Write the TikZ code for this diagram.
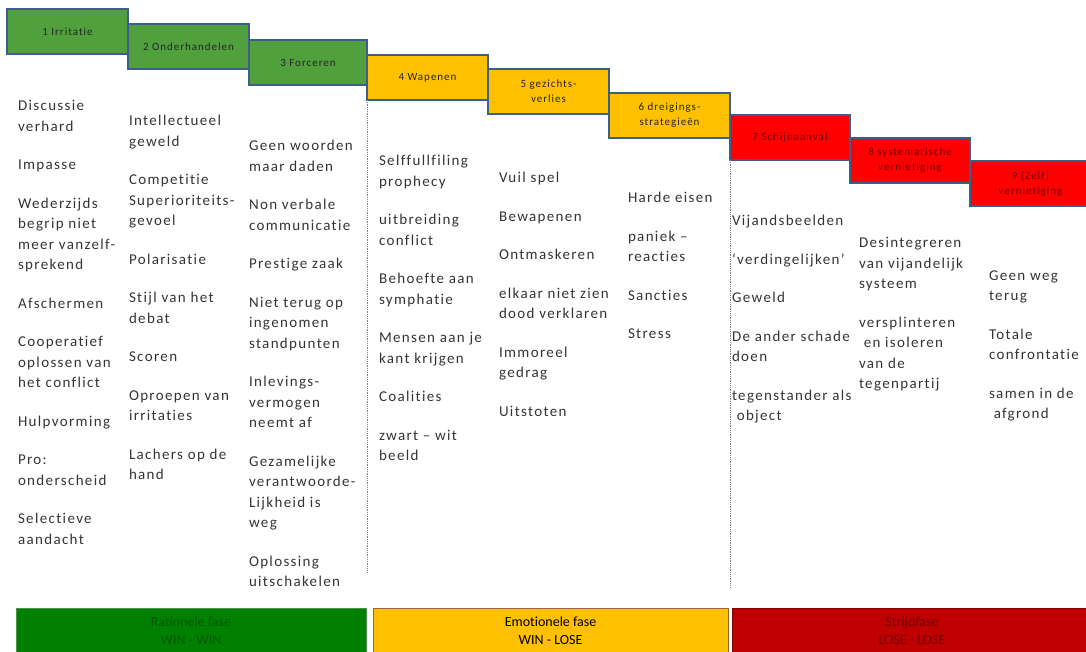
\documentclass[tikz,border=0pt]{standalone}
\usepackage{fontspec}
\setmainfont[Ligatures=NoCommon]{Carlito}
\newfontfamily\bodyfont[LetterSpace=9, Ligatures=NoCommon]{Carlito}
\newfontfamily\stagefont[LetterSpace=9, Ligatures=NoCommon]{Carlito}

\definecolor{stageedge}{RGB}{62,92,140}
\definecolor{headgreen}{RGB}{80,160,62}
\definecolor{headyellow}{RGB}{255,192,0}
\definecolor{headred}{RGB}{255,0,0}
\definecolor{bargreen}{RGB}{0,128,0}
\definecolor{baryellow}{RGB}{255,192,0}
\definecolor{barred}{RGB}{192,0,0}
\definecolor{bodygray}{RGB}{52,52,52}

\newcommand{\gapskip}{18pt}

\tikzset{
  stage/.style={draw=stageedge, line width=2pt, anchor=north west,
    minimum width=121pt, minimum height=45pt, inner sep=0pt, outer sep=0pt,
    align=center, font=\stagefont\fontsize{11pt}{15pt}\selectfont},
  stage green/.style={stage, fill=headgreen, text=black!85},
  stage yellow/.style={stage, fill=headyellow, text=black!85},
  stage red/.style={stage, fill=headred, text=red!45!black},
  itemcol/.style={anchor=north west, inner sep=0pt, outer sep=0pt, align=left,
    text=bodygray, font=\bodyfont\fontsize{15pt}{20.5pt}\selectfont,
    execute at begin node=\strut},
  phasebar/.style={anchor=north west, minimum height=46pt, line width=1pt,
    inner sep=0pt, outer sep=0pt, align=center,
    font=\fontsize{14pt}{18pt}\selectfont},
  divider/.style={densely dotted, gray, line width=0.8pt}
}

\begin{document}
\begin{tikzpicture}[x=1pt, y=-1pt]
    \useasboundingbox (0,0) rectangle (1086,652);

    % stages of escalation
    \node[stage green] (b1) at (7,9)    {1 Irritatie};
    \node[stage green] (b2) at (128,24) {2 Onderhandelen};
    \node[stage green, minimum width=118pt] (b3) at (249,40) {3 Forceren};
    \node[stage yellow] (b4) at (367,55)  {4 Wapenen};
    \node[stage yellow] (b5) at (488,69)  {5 gezichts-\\verlies};
    \node[stage yellow] (b6) at (609,93)  {6 dreigings-\\strategieën};
    \node[stage red, minimum width=120pt] (b7) at (730,115) {7 Schijnaanval};
    \node[stage red, minimum width=120pt] (b8) at (850,138) {8 systematische\\vernietiging};
    \node[stage red] (b9) at (970,161) {9 (Zelf)\\vernietiging};

    % dotted borders between the phases
    \draw[divider] (b4.south west) -- ++(0,472);
    \draw[divider] (b7.south west) -- ++(0,427);

    % features of each stage
    \node[itemcol] (c1) at (18,100.5) {Discussie\\verhard\\[\gapskip]Impasse\\[\gapskip]Wederzijds\\begrip niet\\meer vanzelf-\\sprekend\\[\gapskip]Afschermen\\[\gapskip]Cooperatief\\oplossen van\\het conflict\\[\gapskip]Hulpvorming\\[\gapskip]Pro:\\onderscheid\\[\gapskip]Selectieve\\aandacht};
    \node[itemcol] (c2) at (129,115.5) {Intellectueel\\geweld\\[\gapskip]Competitie\\Superioriteits-\\gevoel\\[\gapskip]Polarisatie\\[\gapskip]Stijl van het\\debat\\[\gapskip]Scoren\\[\gapskip]Oproepen van\\irritaties\\[\gapskip]Lachers op de\\hand};
    \node[itemcol] (c3) at (249,140.5) {Geen woorden\\maar daden\\[\gapskip]Non verbale\\communicatie\\[\gapskip]Prestige zaak\\[\gapskip]Niet terug op\\ingenomen\\standpunten\\[\gapskip]Inlevings-\\vermogen\\neemt af\\[\gapskip]Gezamelijke\\verantwoorde-\\Lijkheid is\\weg\\[\gapskip]Oplossing\\uitschakelen};
    \node[itemcol] (c4) at (379,155.5) {Selffullfiling\\prophecy\\[\gapskip]uitbreiding\\conflict\\[\gapskip]Behoefte aan\\symphatie\\[\gapskip]Mensen aan je\\kant krijgen\\[\gapskip]Coalities\\[\gapskip]zwart – wit\\beeld};
    \node[itemcol] (c5) at (499,172.5) {Vuil spel\\[\gapskip]Bewapenen\\[\gapskip]Ontmaskeren\\[\gapskip]elkaar niet zien\\dood verklaren\\[\gapskip]Immoreel\\gedrag\\[\gapskip]Uitstoten};
    \node[itemcol] (c6) at (628,192.5) {Harde eisen\\[\gapskip]paniek –\\reacties\\[\gapskip]Sancties\\[\gapskip]Stress};
    \node[itemcol] (c7) at (732,215.5) {Vijandsbeelden\\[\gapskip]‘verdingelijken’\\[\gapskip]Geweld\\[\gapskip]De ander schade\\doen\\[\gapskip]tegenstander als\\\ object};
    \node[itemcol] (c8) at (859,237.5) {Desintegreren\\van vijandelijk\\systeem\\[\gapskip]versplinteren\\\ en isoleren\\van de\\tegenpartij};
    \node[itemcol] (c9) at (989,270.5) {Geen weg\\terug\\[\gapskip]Totale\\confrontatie\\[\gapskip]samen in de\\\ afgrond};

    % phases
    \node[phasebar, draw=green!40!black!70, fill=bargreen, text=green!35!black, minimum width=350pt] (p1) at (16,608) {Rationele fase\\WIN - WIN};
    \node[phasebar, draw=brown!80!black, fill=baryellow, text=black, minimum width=355pt] (p2) at (373,608) {Emotionele fase\\WIN - LOSE};
    \node[phasebar, draw=red!50!black, fill=barred, text=red!45!black, minimum width=360pt] (p3) at (732,608) {Strijdfase\\LOSE - LOSE};
\end{tikzpicture}
\end{document}
